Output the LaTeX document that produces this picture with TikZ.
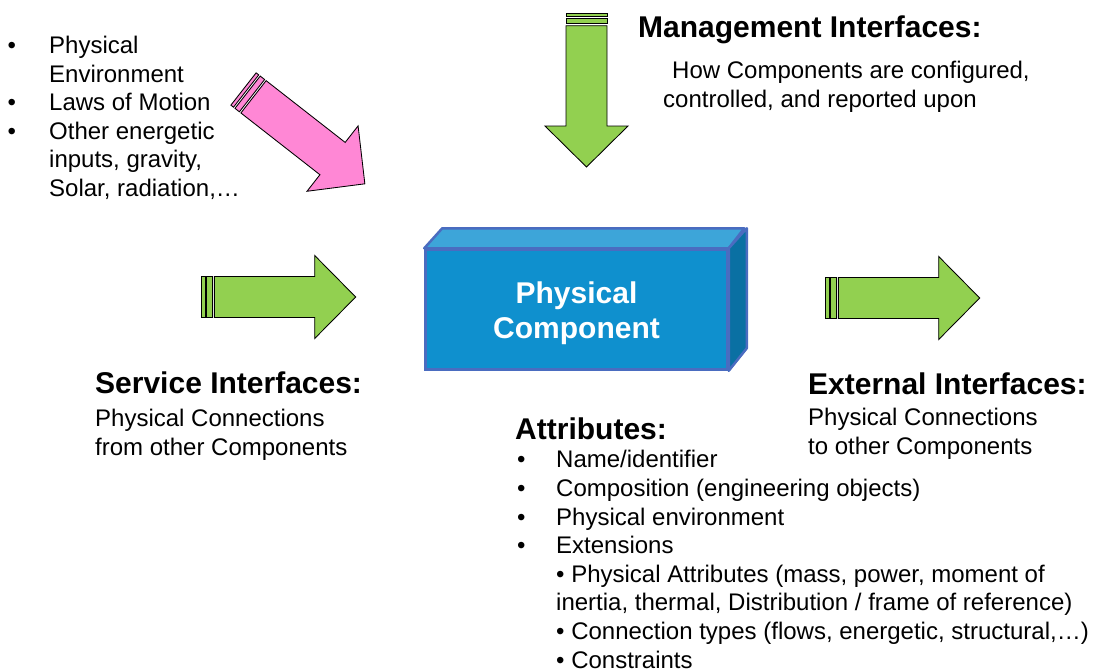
\documentclass[tikz,border=0pt]{standalone}
\usepackage{fontspec}
\setmainfont{Liberation Sans}
\definecolor{arrowgreen}{HTML}{92D050}
\definecolor{arrowpink}{HTML}{FF87D5}
\definecolor{boxfront}{HTML}{0F90CE}
\definecolor{boxtop}{HTML}{3DA5D9}
\definecolor{boxside}{HTML}{0A70A3}
\definecolor{boxedge}{HTML}{4A6CC0}
\tikzset{
  arrowpart/.style={draw=black, line width=0.85pt, line join=miter},
  headtext/.style={anchor=base west, inner sep=0pt, font=\fontsize{30}{36}\selectfont\bfseries},
  bodytext/.style={anchor=base west, inner sep=0pt, align=left, font=\fontsize{24}{28.6}\selectfont},
  frontface/.style={draw=boxedge, fill=boxfront, line width=2.5pt, minimum width=302pt, minimum height=120pt,
    inner sep=0pt},
  boxlabel/.style={inner sep=0pt, align=center, text=white, font=\fontsize{30}{36}\selectfont\bfseries},
  sideface/.style={draw=boxedge, line width=2.5pt, line join=round}
}
\newcommand{\stripedarrow}[3]{%
  \begin{scope}[shift={#1}, rotate=#2]
    \path[arrowpart, fill=#3] (0,-20.5) rectangle (3.3,20.5);
    \path[arrowpart, fill=#3] (5.2,-20.5) rectangle (10.8,20.5);
    \path[arrowpart, fill=#3] (12.7,-20.5) -- (113,-20.5) -- (113,-41.5) -- (154,0)
      -- (113,41.5) -- (113,20.5) -- (12.7,20.5) -- cycle;
  \end{scope}}
\newcommand{\bul}[1]{\makebox[#1][l]{\textbullet}}
\begin{document}
\begin{tikzpicture}[x=1pt, y=-1pt]
  \useasboundingbox (0,0) rectangle (1093,672);
  % arrows
  \stripedarrow{(586.5,13)}{-90}{arrowgreen}
  \stripedarrow{(243.5,89)}{-38}{arrowpink}
  \stripedarrow{(201.7,297)}{0}{arrowgreen}
  \stripedarrow{(825.7,298)}{0}{arrowgreen}
  % component box
  \node[frontface] (comp) at (576.5,309.5) {};
  \path[sideface, fill=boxtop] (comp.north west) -- ++(18,-20) -- ++(302,0) -- (comp.north east) -- cycle;
  \path[sideface, fill=boxside] (comp.north east) -- ++(18,-20) -- ++(0,120) -- (comp.south east) -- cycle;
  \node[boxlabel] (complabel) at (576.5,313) {Physical\\[-1pt]Component};
  % top-left list (anchor = baseline of last line)
  \node[bodytext] (env) at (7.5,196.5) {\bul{41.5pt}Physical\\
    \hspace*{41.5pt}Environment\\
    \bul{41.5pt}Laws of Motion\\
    \bul{41.5pt}Other energetic\\
    \hspace*{41.5pt}inputs, gravity,\\
    \hspace*{41.5pt}Solar, radiation,…};
  % management
  \node[headtext] (mgmt) at (638,37) {Management Interfaces:};
  \node[bodytext] (mgmtd) at (663,107) {\hspace*{9pt}How Components are configured,\\controlled, and reported upon};
  % service
  \node[headtext] (serv) at (95,393) {Service Interfaces:};
  \node[bodytext] (servd) at (95,455) {Physical Connections\\from other Components};
  % external
  \node[headtext] (ext) at (808,394) {External Interfaces:};
  \node[bodytext] (extd) at (808,454) {Physical Connections\\to other Components};
  % attributes
  \node[headtext] (attr) at (515,439) {Attributes:};
  \node[bodytext] (attrd) at (517,668) {\bul{39pt}Name/identifier\\
    \bul{39pt}Composition (engineering objects)\\
    \bul{39pt}Physical environment\\
    \bul{39pt}Extensions\\
    \hspace*{39pt}• Physical Attributes (mass, power, moment of\\
    \hspace*{39pt}inertia, thermal, Distribution / frame of reference)\\
    \hspace*{39pt}• Connection types (flows, energetic, structural,…)\\
    \hspace*{39pt}• Constraints};
\end{tikzpicture}
\end{document}
